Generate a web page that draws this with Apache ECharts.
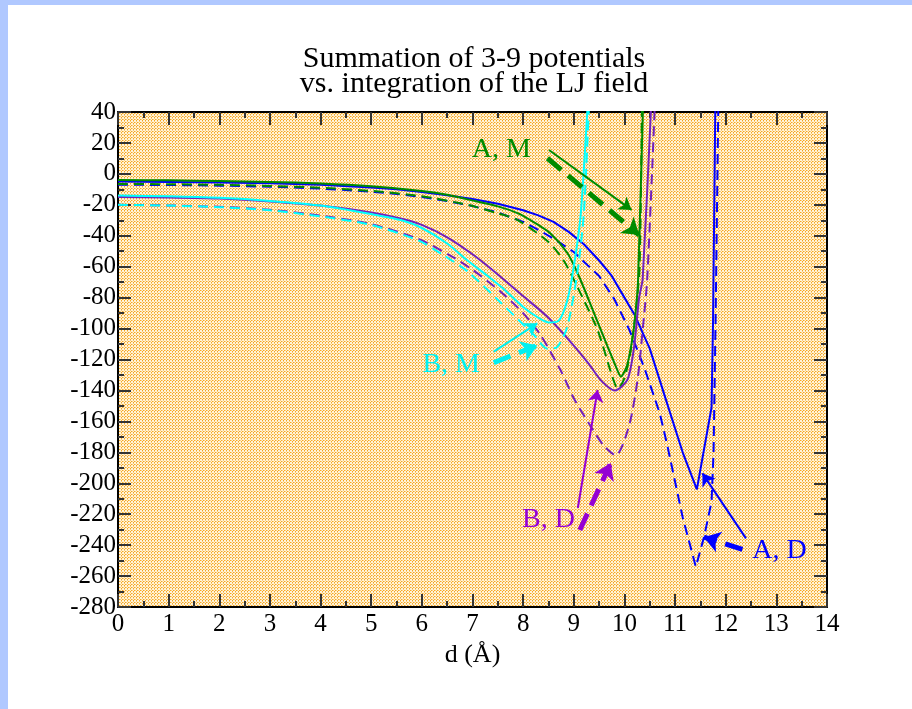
<!DOCTYPE html>
<html>
<head>
<meta charset="utf-8">
<script src="https://cdn.jsdelivr.net/npm/echarts@6/dist/echarts.min.js"></script>
<style>
html, body { margin: 0; padding: 0; background: #b0c8ff; }
#chart { position: absolute; left: 8px; top: 5px; width: 904px; height: 704px; background: #fff; }
</style>
</head>
<body>
<div id="chart"></div>
<script>
// curves: [d, energy]
var adSolid = [[0, -5], [1, -5.2], [2, -5.5], [3, -6], [4, -7], [5, -8.8], [5.5, -10], [6, -11.8], [6.5, -13.8], [7, -16.3], [7.5, -19.3], [8, -23.5], [8.3, -26.8], [8.6, -31], [8.9, -37.5], [9.2, -45.5], [9.5, -56], [9.75, -66], [10, -80], [10.2, -91], [10.5, -113], [10.8, -144], [11.15, -180], [11.43, -204], [11.72, -151], [11.75, -95], [11.8, 60]]
var adDashed = [[0, -7], [1, -7.2], [2, -7.6], [3, -8.3], [4, -9.5], [5, -11.5], [5.5, -13], [6, -15], [6.5, -17.5], [7, -20.8], [7.5, -25], [8, -31], [8.35, -37], [8.7, -44], [9, -50.5], [9.27, -59], [9.5, -66], [9.8, -81], [10.1, -101], [10.4, -126], [10.7, -155], [10.85, -176], [11.15, -222], [11.41, -254], [11.57, -235], [11.72, -212], [11.76, -180], [11.8, -95], [11.86, 60]]
var amSolid = [[0, -4], [1, -4.2], [2, -4.6], [3, -5.2], [4, -6.2], [5, -8], [6, -11], [6.5, -13.5], [6.9, -16.5], [7.5, -21], [7.9, -25.5], [8.2, -31], [8.54, -38.5], [8.87, -51], [9.1, -66], [9.4, -90], [9.66, -111], [9.85, -126], [9.93, -131], [10.05, -124], [10.15, -108], [10.22, -90], [10.27, -68], [10.38, 60]]
var amDashed = [[0, -6.5], [1, -6.7], [2, -7.1], [3, -7.8], [4, -9], [5, -11], [6, -14.5], [6.9, -20], [7.5, -25.5], [7.9, -30], [8.5, -44], [8.8, -56], [9.07, -73], [9.47, -101], [9.76, -131], [9.87, -139], [10, -132], [10.12, -115], [10.22, -90], [10.3, -60], [10.35, 60]]
var bdSolid = [[0, -15], [1, -15.3], [2, -16], [3, -17.8], [4, -20.5], [5, -25], [5.6, -29], [6, -33], [6.5, -41], [7, -52], [7.5, -65], [8, -79], [8.5, -93], [9, -111], [9.3, -123], [9.55, -134], [9.81, -140], [10.06, -133], [10.19, -112], [10.29, -80], [10.36, -68], [10.55, 60]]
var bdDashed = [[0, -20], [1, -20.4], [2, -21.3], [3, -23.2], [4, -27], [5, -32.5], [5.93, -42], [6.57, -53], [7, -62], [7.55, -76], [8, -90], [8.34, -104], [8.74, -127], [9, -145], [9.33, -163], [9.6, -176], [9.83, -182], [10.09, -163], [10.26, -133], [10.36, -101], [10.45, -68], [10.62, 60]]
var bmSolid = [[0, -14], [1, -14.5], [2, -15.5], [3, -17.5], [4, -20.5], [5, -26], [5.6, -30], [6, -35], [6.5, -45], [6.9, -56], [7.3, -66], [7.6, -74], [8, -86], [8.3, -93], [8.5, -96], [8.7, -95], [8.87, -82], [9, -60], [9.14, -25], [9.3, 60]]
var bmDashed = [[0, -20], [1, -20.5], [2, -21.5], [3, -23.5], [4, -27.5], [5, -33], [5.93, -43], [6.4, -52], [6.9, -63], [7.55, -83], [8.21, -104], [8.48, -113], [8.67, -112], [8.87, -99], [9.07, -64], [9.2, -25], [9.32, 60]]

// annotations: label text, label position, thin arrow and thick dashed arrow [x1, y1, x2, y2]
var noteText = ['A, M', 'B, M', 'B, D', 'A, D']
var noteColor = ['#008b00', '#00f0f0', '#9400d3', '#0000ff']
var notePos = [[7.57, 15.4], [6.58, -123.5], [8.5, -223.7], [13.06, -243.7]]
var thinArrows = [[8.51, 15.4, 10.14, -23.3], [7.42, -114.9, 8.28, -96.6], [9.08, -216, 9.47, -139.7], [12.4, -235.6, 11.54, -193.6]]
var thickArrows = [[8.48, 10.1, 10.29, -39.5], [7.42, -122, 8.28, -110.9], [9.12, -230.2, 9.73, -186.9], [12.33, -242.7, 11.57, -234.9]]

var FONT = "'Liberation Serif', 'DejaVu Serif', serif"

function makePattern() {
  var c = document.createElement('canvas')
  c.width = 3
  c.height = 3
  var g = c.getContext('2d')
  g.fillStyle = '#fff3d8'
  g.fillRect(0, 0, 3, 3)
  g.fillStyle = '#f5a623'
  g.fillRect(0, 0, 1, 1)
  g.fillRect(2, 1, 1, 1)
  g.fillStyle = '#fbcd7c'
  g.fillRect(1, 0, 1, 1)
  g.fillRect(2, 2, 1, 1)
  return c
}

function curve(data, color, dashed, smooth) {
  return {
    type: 'line',
    data: data,
    showSymbol: false,
    symbol: 'none',
    smooth: smooth,
    clip: true,
    z: 3,
    lineStyle: { color: color, width: 2, type: dashed ? [10, 6] : 'solid' }
  }
}

function note(i) {
  var t = thinArrows[i]
  var k = thickArrows[i]
  return {
    type: 'line',
    data: [],
    z: 4,
    markLine: {
      silent: true,
      animation: false,
      symbol: ['none', 'arrow'],
      label: { show: false },
      data: [
        [{ coord: [t[0], t[1]], symbolSize: 12, lineStyle: { color: noteColor[i], width: 2, type: 'solid' } },
         { coord: [t[2], t[3]], symbolSize: 12 }],
        [{ coord: [k[0], k[1]], symbolSize: 16, lineStyle: { color: noteColor[i], width: 5, type: [18, 9] } },
         { coord: [k[2], k[3]], symbolSize: 16 }]
      ]
    },
    markPoint: {
      silent: true,
      animation: false,
      symbol: 'rect',
      symbolSize: 1,
      itemStyle: { color: 'transparent' },
      label: { show: true, position: 'inside', formatter: noteText[i], color: noteColor[i], fontSize: 28, fontFamily: FONT },
      data: [{ coord: notePos[i] }]
    }
  }
}

var tickStyle = { color: '#333', width: 2 }
function xAxisOf(pos, labels) {
  return {
    type: 'value', position: pos, min: 0, max: 14, interval: 1,
    name: labels ? 'd (Å)' : '', nameLocation: 'middle', nameGap: 32,
    nameTextStyle: { fontSize: 26, fontFamily: FONT, color: '#000' },
    axisLine: { show: true, onZero: false, lineStyle: { color: '#000', width: 2 } },
    axisTick: { show: true, inside: true, length: 13, lineStyle: tickStyle },
    minorTick: { show: true, splitNumber: 2, length: 6, lineStyle: tickStyle },
    axisLabel: { show: labels, fontSize: 25, fontFamily: FONT, color: '#000', margin: 5 },
    splitLine: { show: false }
  }
}
function yAxisOf(pos, labels) {
  return {
    type: 'value', position: pos, min: -280, max: 40, interval: 20,
    axisLine: { show: true, onZero: false, lineStyle: { color: '#000', width: 2 } },
    axisTick: { show: true, inside: true, length: 13, lineStyle: tickStyle },
    minorTick: { show: true, splitNumber: 2, length: 6, lineStyle: tickStyle },
    axisLabel: { show: labels, fontSize: 25, fontFamily: FONT, color: '#000', margin: 2 },
    splitLine: { show: false }
  }
}

var chart = echarts.init(document.getElementById('chart'))
var option = {
  animation: false,
  title: {
    text: 'Summation of 3-9 potentials\nvs. integration of the LJ field',
    left: 461,
    top: 37,
    textAlign: 'center',
    textStyle: { fontSize: 30, lineHeight: 25, fontWeight: 'normal', fontFamily: FONT, color: '#000' }
  },
  grid: {
    left: 110, top: 107, right: 85, bottom: 102,
    show: true,
    borderWidth: 0,
    backgroundColor: { image: makePattern(), repeat: 'repeat' }
  },
  xAxis: [xAxisOf('bottom', true), xAxisOf('top', false)],
  yAxis: [yAxisOf('left', true), yAxisOf('right', false)],
  series: [
    curve(adSolid, '#0000ff', false, false),
    curve(adDashed, '#0000ff', true, false),
    curve(amSolid, '#008b00', false, 0.25),
    curve(amDashed, '#008b00', true, 0.25),
    curve(bdSolid, '#7221bc', false, 0.25),
    curve(bdDashed, '#7221bc', true, 0.25),
    curve(bmSolid, '#00ffff', false, 0.25),
    curve(bmDashed, '#00ffff', true, 0.25),
    note(0), note(1), note(2), note(3)
  ]
}
chart.setOption(option)
</script>
</body>
</html>
